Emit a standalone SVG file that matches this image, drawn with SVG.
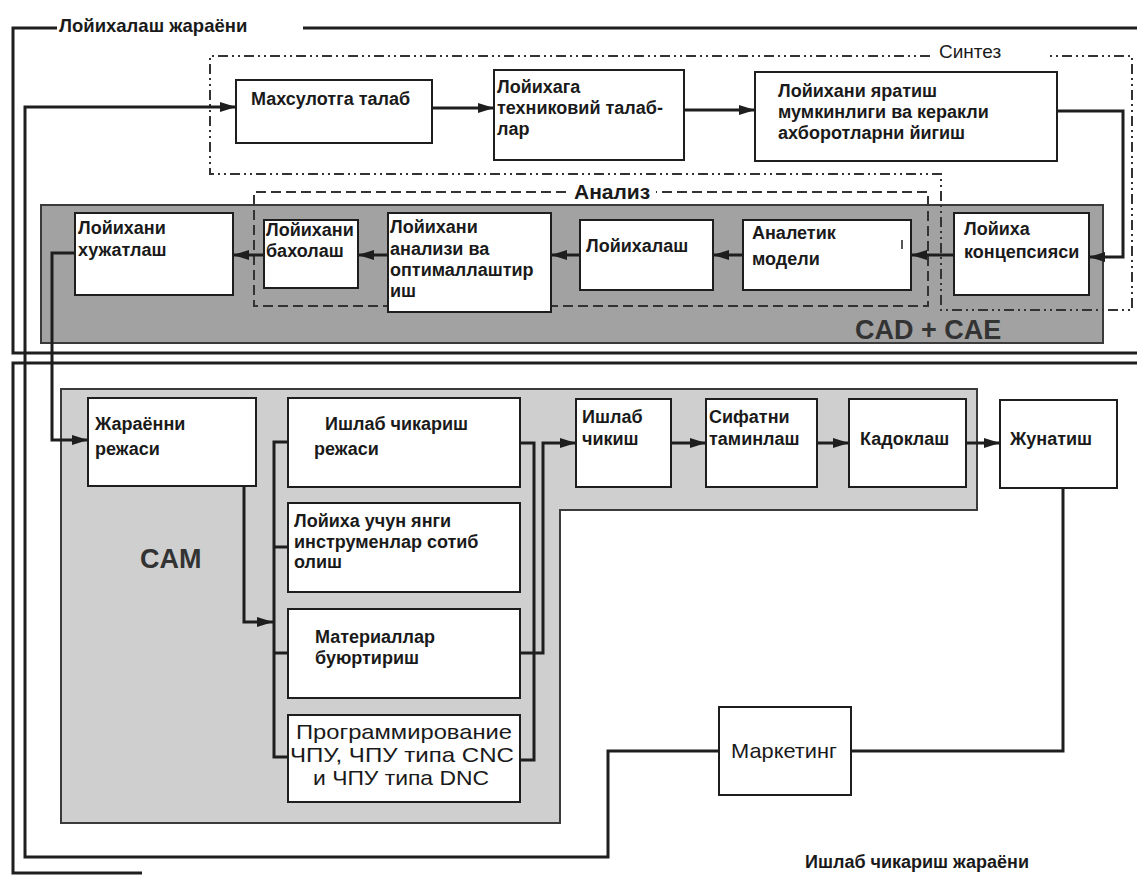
<svg xmlns="http://www.w3.org/2000/svg" width="1137" height="876" viewBox="0 0 1137 876">
<style>
.bg{fill:#fff}
.box{fill:#fff;stroke:#1e1e1e;stroke-width:2}
.t{font-family:"Liberation Sans",Arial,sans-serif;font-size:18px;font-weight:bold;fill:#1a1a1a}
.tr{font-family:"Liberation Sans",Arial,sans-serif;font-size:21px;fill:#1a1a1a}
.lbl{font-family:"Liberation Sans",Arial,sans-serif;font-size:18px;font-weight:bold;fill:#1a1a1a}
.big{font-family:"Liberation Sans",Arial,sans-serif;font-size:27px;font-weight:bold;fill:#333}
.conn{fill:none;stroke:#1e1e1e;stroke-width:3}
.frame{fill:none;stroke:#1e1e1e;stroke-width:3}
.synth{fill:none;stroke:#333;stroke-width:2;stroke-dasharray:10 4 2 4 2 4}
.anal{fill:none;stroke:#333;stroke-width:2;stroke-dasharray:10 5}
.gray1{fill:#a2a2a2;stroke:#3a3a3a;stroke-width:2}
.gray2{fill:#cfcfcf;stroke:#3a3a3a;stroke-width:2}
</style>
<defs>
<marker id="ah" markerUnits="userSpaceOnUse" markerWidth="16" markerHeight="10" refX="16" refY="5" orient="auto">
<path d="M0,0 L16,5 L0,10 z" fill="#1e1e1e"/>
</marker>
</defs>
<rect class="bg" x="0" y="0" width="1137" height="876"/>

<g id="frames">
<path class="frame" d="M57,28 H13 V353 H1137"/>
<path class="frame" d="M303,28 H1137"/>
<path class="frame" d="M1137,363 H13 V873 H142"/>
<text class="lbl" x="59" y="32" style="font-size:18.5px">Лойихалаш жараёни</text>
<text class="lbl" x="805" y="868">Ишлаб чикариш жараёни</text>
</g>

<g id="regions">
<rect class="gray1" x="41" y="205" width="1062" height="138"/>
<text class="big" x="855" y="339">CAD + CAE</text>
<path class="gray2" d="M61,389 H977 V510 H560 V823 H61 Z"/>
<text class="big" x="140" y="568">CAM</text>
<path class="synth" d="M930,56 H210 V174 H941 V310 H1132 V56 H1046"/>
<text class="lbl" x="939" y="58" style="font-weight:normal;font-size:19px">Синтез</text>
<path class="anal" d="M566,192 H254 V306 H928 V192 H656"/>
<text class="lbl" x="574" y="199" style="font-size:21px">Анализ</text>
</g>

<g id="connectors">
<path class="conn" d="M432,108 H494" marker-end="url(#ah)"/>
<path class="conn" d="M684,110 H755" marker-end="url(#ah)"/>
<path class="conn" d="M1057,111 H1123 V257 H1089" marker-end="url(#ah)"/>
<path class="conn" d="M954,255 H911" marker-end="url(#ah)"/>
<path class="conn" d="M743,255 H713" marker-end="url(#ah)"/>
<path class="conn" d="M580,255 H551" marker-end="url(#ah)"/>
<path class="conn" d="M388,255 H358" marker-end="url(#ah)"/>
<path class="conn" d="M264,255 H233" marker-end="url(#ah)"/>
<path class="conn" d="M75,253 H52 V440 H88" marker-end="url(#ah)"/>
<path class="conn" d="M244,486 V622 H273" marker-end="url(#ah)"/>
<path class="conn" d="M288,442 H274 V757 H288 M274,547 H288 M274,653 H288"/>
<path class="conn" d="M520,443 H534 V760 H520"/>
<path class="conn" d="M520,653 H543 V443 H576" marker-end="url(#ah)"/>
<path class="conn" d="M671,443 H706" marker-end="url(#ah)"/>
<path class="conn" d="M817,443 H849" marker-end="url(#ah)"/>
<path class="conn" d="M966,443 H1000" marker-end="url(#ah)"/>
<path class="conn" d="M1063,488 V751 H851"/>
<path class="conn" d="M719,751 H608 V857 H25 V107 H236" marker-end="url(#ah)"/>
</g>

<g id="n1"><rect class="box" x="236" y="80" width="196" height="63"/><text class="t" x="251" y="105">Махсулотга талаб</text></g>
<g id="n2"><rect class="box" x="494" y="70" width="190" height="90"/><text class="t" x="497" y="93">Лойихага</text><text class="t" x="497" y="114">техниковий талаб-</text><text class="t" x="497" y="135">лар</text></g>
<g id="n3"><rect class="box" x="755" y="72" width="302" height="89"/><text class="t" x="778" y="97">Лойихани яратиш</text><text class="t" x="778" y="118">мумкинлиги ва керакли</text><text class="t" x="778" y="139">ахборотларни йигиш</text></g>
<g id="n4"><rect class="box" x="954" y="213" width="135" height="82"/><text class="t" x="964" y="235">Лойиха</text><text class="t" x="964" y="258">концепсияси</text></g>
<g id="n5"><rect class="box" x="743" y="220" width="168" height="70"/><text class="t" x="752" y="239">Аналетик</text><text class="t" x="752" y="265">модели</text><path d="M902,240 V249" stroke="#1e1e1e" stroke-width="1.5"/></g>
<g id="n6"><rect class="box" x="580" y="220" width="133" height="70"/><text class="t" x="586" y="252">Лойихалаш</text></g>
<g id="n7"><rect class="box" x="388" y="213" width="163" height="99"/><text class="t" x="390" y="233">Лойихани</text><text class="t" x="390" y="255">анализи ва</text><text class="t" x="390" y="276">оптималлаштир</text><text class="t" x="390" y="297">иш</text></g>
<g id="n8"><rect class="box" x="264" y="220" width="94" height="68"/><text class="t" x="266" y="236">Лойихани</text><text class="t" x="266" y="257">бахолаш</text></g>
<g id="n9"><rect class="box" x="75" y="213" width="158" height="82"/><text class="t" x="78" y="234">Лойихани</text><text class="t" x="78" y="256">хужатлаш</text></g>

<g id="n10"><rect class="box" x="88" y="398" width="168" height="88"/><text class="t" x="95" y="430">Жараённи</text><text class="t" x="95" y="455">режаси</text></g>
<g id="n11"><rect class="box" x="288" y="398" width="232" height="89"/><text class="t" x="325" y="430">Ишлаб чикариш</text><text class="t" x="314" y="455">режаси</text></g>
<g id="n12"><rect class="box" x="288" y="503" width="232" height="89"/><text class="t" x="294" y="527">Лойиха учун янги</text><text class="t" x="294" y="548">инструменлар сотиб</text><text class="t" x="294" y="568">олиш</text></g>
<g id="n13"><rect class="box" x="288" y="609" width="232" height="89"/><text class="t" x="315" y="643">Материаллар</text><text class="t" x="315" y="664">буюртириш</text></g>
<g id="n14"><rect class="box" x="288" y="715" width="232" height="87"/><text class="tr" x="404" y="739" text-anchor="middle" textLength="216" lengthAdjust="spacingAndGlyphs">Программирование</text><text class="tr" x="402" y="762" text-anchor="middle" textLength="224" lengthAdjust="spacingAndGlyphs">ЧПУ, ЧПУ типа CNC</text><text class="tr" x="401" y="785" text-anchor="middle" textLength="176" lengthAdjust="spacingAndGlyphs">и ЧПУ типа DNC</text></g>
<g id="n15"><rect class="box" x="576" y="399" width="95" height="88"/><text class="t" x="582" y="423">Ишлаб</text><text class="t" x="582" y="445">чикиш</text></g>
<g id="n16"><rect class="box" x="706" y="399" width="111" height="88"/><text class="t" x="709" y="423">Сифатни</text><text class="t" x="709" y="445">таминлаш</text></g>
<g id="n17"><rect class="box" x="849" y="399" width="117" height="88"/><text class="t" x="860" y="445">Кадоклаш</text></g>
<g id="n18"><rect class="box" x="1000" y="400" width="117" height="88"/><text class="t" x="1010" y="445">Жунатиш</text></g>
<g id="n19"><rect class="box" x="719" y="707" width="132" height="88"/><text class="tr" x="784" y="758" text-anchor="middle" textLength="106" lengthAdjust="spacingAndGlyphs">Маркетинг</text></g>
</svg>
